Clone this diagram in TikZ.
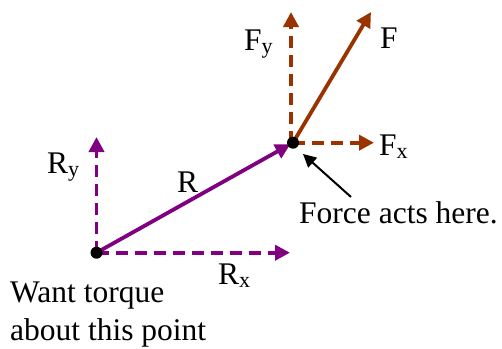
\documentclass[tikz,border=0pt]{standalone}
\usepackage{fontspec}
\setmainfont{Liberation Serif}
\usetikzlibrary{arrows.meta}
\definecolor{vpurple}{HTML}{800080}
\definecolor{vbrown}{HTML}{993300}
\tikzset{
  vec/.style={line width=3.8pt, -{Triangle[length=15pt,width=15pt]}},
  comp/.style={vec, dash pattern=on 12pt off 7pt},
  lbl/.style={font=\fontsize{31.5}{36}\selectfont, inner sep=0pt, anchor=base west},
  pt/.style={circle, fill=black, inner sep=0pt, minimum size=12pt},
}
\begin{document}
\begin{tikzpicture}[x=1pt,y=-1pt]
\useasboundingbox (0,0) rectangle (502,348);
\coordinate (O) at (96.5,252.7);
\coordinate (P) at (293,142.7);
\coordinate (Pl) at (291,142.7);
\coordinate (Rytip) at (96.5,137);
\coordinate (Rxtip) at (290,252.7);
\coordinate (Fytip) at (291,12);
\coordinate (Ftip) at (371,12);
\coordinate (Fxtip) at (374,142.7);
\coordinate (Atail) at (351,197);
\coordinate (Atip) at (303,154);
% R components
\draw[comp, vpurple] (O) -- (Rytip);
\draw[comp, vpurple] (O) -- (Rxtip);
\draw[vec, vpurple, shorten >=3pt] (O) -- (P);
% F components
\draw[comp, vbrown] (Pl) -- (Fytip);
\draw[comp, vbrown] (P) -- (Fxtip);
\draw[vec, vbrown] (P) -- (Ftip);
% pointer
\draw[line width=2pt, -{Triangle[length=13pt,width=13pt]}] (Atail) -- (Atip);
% dots
\node[pt] (dO) at (O) {};
\node[pt] (dP) at (P) {};
% labels
\node[lbl] (lFy) at (244,50) {F\textsubscript{y}};
\node[lbl] (lF) at (380,48) {F};
\node[lbl] (lFx) at (379,155) {F\textsubscript{x}};
\node[lbl] (lForce) at (299,223) {Force acts here.};
\node[lbl] (lRy) at (47,173) {R\textsubscript{y}};
\node[lbl] (lR) at (177,192) {R};
\node[lbl] (lRx) at (218,284) {R\textsubscript{x}};
\node[lbl] (lWant1) at (10,302) {Want torque};
\node[lbl] (lWant2) at (10,340) {about this point};
\end{tikzpicture}
\end{document}
